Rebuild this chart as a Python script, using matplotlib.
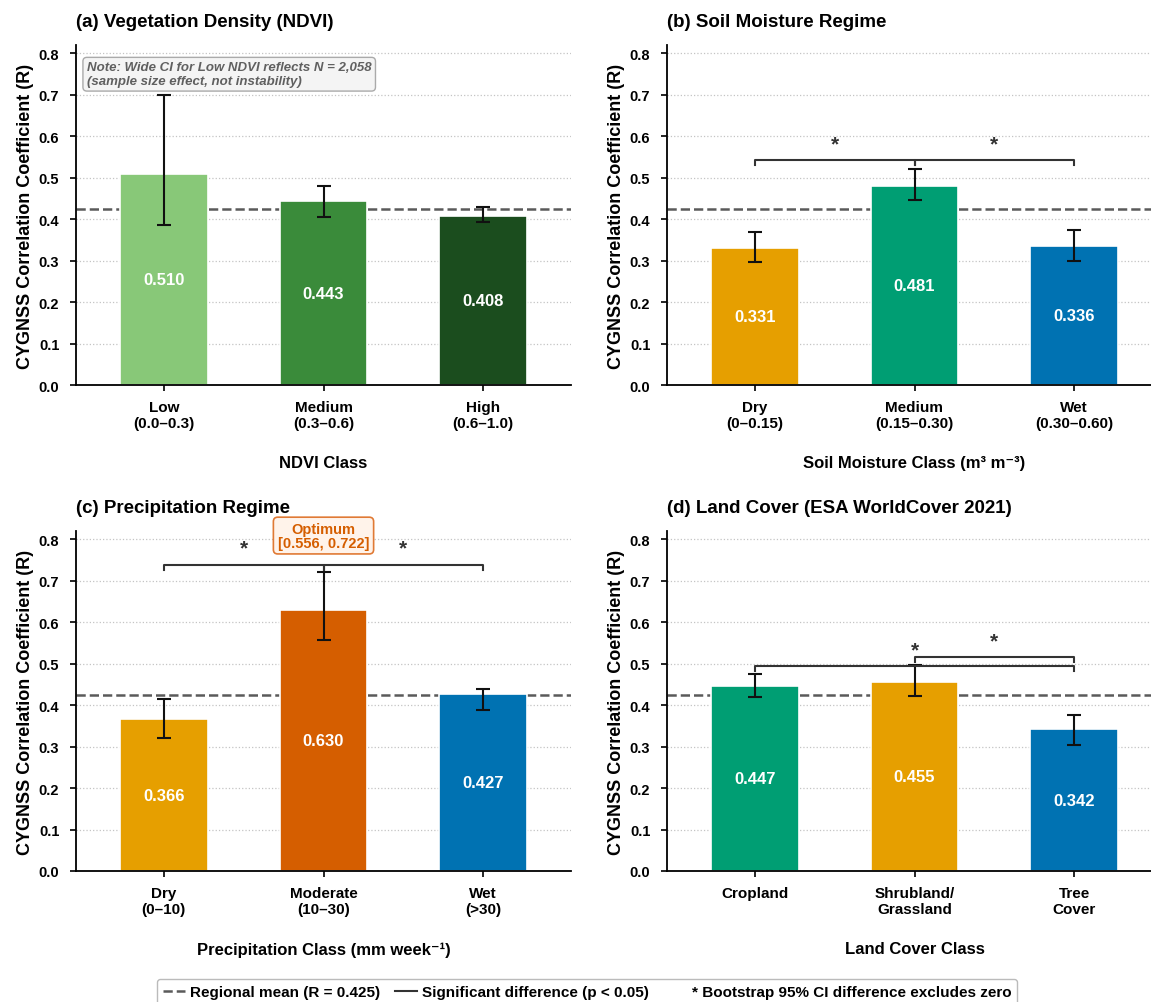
import matplotlib
matplotlib.use("Agg")
import matplotlib.pyplot as plt
from matplotlib.lines import Line2D
import numpy as np

plt.rcParams['font.family'] = ['Liberation Sans', 'DejaVu Sans']
plt.rcParams['font.weight'] = 'bold'
plt.rcParams['axes.labelweight'] = 'bold'
plt.rcParams['axes.titleweight'] = 'bold'

REGIONAL_MEAN = 0.425

# (a) vegetation density
ndvi_labels = ["Low\n(0.0–0.3)", "Medium\n(0.3–0.6)", "High\n(0.6–1.0)"]
ndvi_r = [0.510, 0.443, 0.408]
ndvi_ci_low = [0.385, 0.405, 0.392]
ndvi_ci_high = [0.700, 0.480, 0.430]
ndvi_colors = ["#88C878", "#3A8B3A", "#1B4D1E"]

# (b) soil moisture
sm_labels = ["Dry\n(0–0.15)", "Medium\n(0.15–0.30)", "Wet\n(0.30–0.60)"]
sm_r = [0.331, 0.481, 0.336]
sm_ci_low = [0.296, 0.447, 0.300]
sm_ci_high = [0.369, 0.521, 0.375]
sm_colors = ["#E69F00", "#009E73", "#0072B2"]

# (c) precipitation
precip_labels = ["Dry\n(0–10)", "Moderate\n(10–30)", "Wet\n(>30)"]
precip_r = [0.366, 0.630, 0.427]
precip_ci_low = [0.320, 0.556, 0.388]
precip_ci_high = [0.415, 0.722, 0.439]
precip_colors = ["#E69F00", "#D55E00", "#0072B2"]

# (d) land cover
lc_labels = ["Cropland", "Shrubland/\nGrassland", "Tree\nCover"]
lc_r = [0.447, 0.455, 0.342]
lc_ci_low = [0.420, 0.421, 0.305]
lc_ci_high = [0.476, 0.497, 0.376]
lc_colors = ["#009E73", "#E69F00", "#0072B2"]

MEAN_COLOR = "#5a5a5a"
SIG_COLOR = "#333333"


def draw_panel(ax, labels, r, lo, hi, colors, title, xlabel, brackets=()):
    x = np.arange(len(r))
    r = np.asarray(r)
    ax.yaxis.grid(True, linestyle=':', color='#c4c4c4', linewidth=0.9)
    ax.set_axisbelow(True)
    ax.axhline(REGIONAL_MEAN, color=MEAN_COLOR, ls='--', lw=1.8, zorder=1)
    ax.bar(x, r, width=0.55, color=colors, edgecolor='white', linewidth=1.2, zorder=2)
    yerr = [r - np.asarray(lo), np.asarray(hi) - r]
    ax.errorbar(x, r, yerr=yerr, fmt='none', ecolor='#111111', elinewidth=1.5,
                capsize=5, capthick=1.5, zorder=3)
    for xi, v in zip(x, r):
        ax.text(xi, v / 2, f"{v:.3f}", ha='center', va='center', color='white',
                fontsize=12, fontweight='bold', zorder=4)
    for i, j, y in brackets:
        ax.plot([i, i, j, j], [y - 0.012, y, y, y - 0.012], color=SIG_COLOR, lw=1.5,
                zorder=4, clip_on=False)
        ax.text((i + j) / 2, y + 0.026, '*', ha='center', va='baseline',
                fontsize=15, color=SIG_COLOR, zorder=4)

    ax.set_xlim(-0.55, 2.55)
    ax.set_ylim(0, 0.82)
    ax.set_yticks(np.arange(0, 0.81, 0.1))
    ax.set_xticks(x)
    ax.set_xticklabels(labels, fontsize=11, fontweight='bold')
    ax.tick_params(axis='y', labelsize=10.5, width=1.2, length=4.5, pad=7.5)
    ax.tick_params(axis='x', width=1.2, length=4.5, pad=6.5)
    for lab in ax.get_yticklabels():
        lab.set_fontweight('bold')
    ax.set_ylabel("CYGNSS Correlation Coefficient (R)", fontsize=13, labelpad=3.5)
    ax.set_xlabel(xlabel, fontsize=12, labelpad=18)
    ax.set_title(title, loc='left', fontsize=13.5, pad=14)
    ax.spines['top'].set_visible(False)
    ax.spines['right'].set_visible(False)
    ax.spines['left'].set_linewidth(1.3)
    ax.spines['bottom'].set_linewidth(1.3)


fig = plt.figure(figsize=(11.51, 10.03), dpi=100)
W, H = 1151, 1003
aw, ah = 495 / W, 340 / H
ax_a = fig.add_axes([76 / W, 617 / H, aw, ah])
ax_b = fig.add_axes([667 / W, 617 / H, aw, ah])
ax_c = fig.add_axes([76 / W, 131 / H, aw, ah])
ax_d = fig.add_axes([667 / W, 131 / H, aw, ah])

draw_panel(ax_a, ndvi_labels, ndvi_r, ndvi_ci_low, ndvi_ci_high, ndvi_colors,
           "(a) Vegetation Density (NDVI)", "NDVI Class")
draw_panel(ax_b, sm_labels, sm_r, sm_ci_low, sm_ci_high, sm_colors,
           "(b) Soil Moisture Regime", "Soil Moisture Class (m³ m⁻³)",
           brackets=[(0, 1, 0.542), (1, 2, 0.542)])
draw_panel(ax_c, precip_labels, precip_r, precip_ci_low, precip_ci_high, precip_colors,
           "(c) Precipitation Regime", "Precipitation Class (mm week⁻¹)",
           brackets=[(0, 1, 0.739), (1, 2, 0.739)])
draw_panel(ax_d, lc_labels, lc_r, lc_ci_low, lc_ci_high, lc_colors,
           "(d) Land Cover (ESA WorldCover 2021)", "Land Cover Class",
           brackets=[(0, 2, 0.495), (1, 2, 0.516)])

ax_a.text(0.022, 0.952,
          "Note: Wide CI for Low NDVI reflects N = 2,058\n(sample size effect, not instability)",
          transform=ax_a.transAxes, ha='left', va='top', fontsize=9.5,
          fontstyle='italic', fontweight='bold', color='#606060', zorder=5,
          bbox=dict(boxstyle='round,pad=0.3', facecolor='#f4f4f4', edgecolor='#aaaaaa', lw=1))

opt_lo, opt_hi = precip_ci_low[1], precip_ci_high[1]
ax_c.text(1, 0.809, f"Optimum\n[{opt_lo:.3f}, {opt_hi:.3f}]", ha='center', va='center',
          fontsize=10.5, fontweight='bold', color='#D55E00', clip_on=False, zorder=5,
          linespacing=1.0,
          bbox=dict(boxstyle='round,pad=0.3', facecolor='#FFF3EA', edgecolor='#E07A35', lw=1.2))

handles = [
    Line2D([0], [0], color=MEAN_COLOR, ls='--', lw=1.8),
    Line2D([0], [0], color=SIG_COLOR, lw=1.5),
    Line2D([], [], color='none'),
]
labels = ["Regional mean (R = 0.425)", "Significant difference (p < 0.05)",
          "* Bootstrap 95% CI difference excludes zero"]
fig.legend(handles, labels, loc='upper center', bbox_to_anchor=(587 / W, 23 / H), ncol=3,
           frameon=True, edgecolor='#aaaaaa', handlelength=1.45, handletextpad=0.33,
           columnspacing=1.0, borderaxespad=0, prop={'weight': 'bold', 'size': 11})

fig.savefig("out.png", dpi=100)
